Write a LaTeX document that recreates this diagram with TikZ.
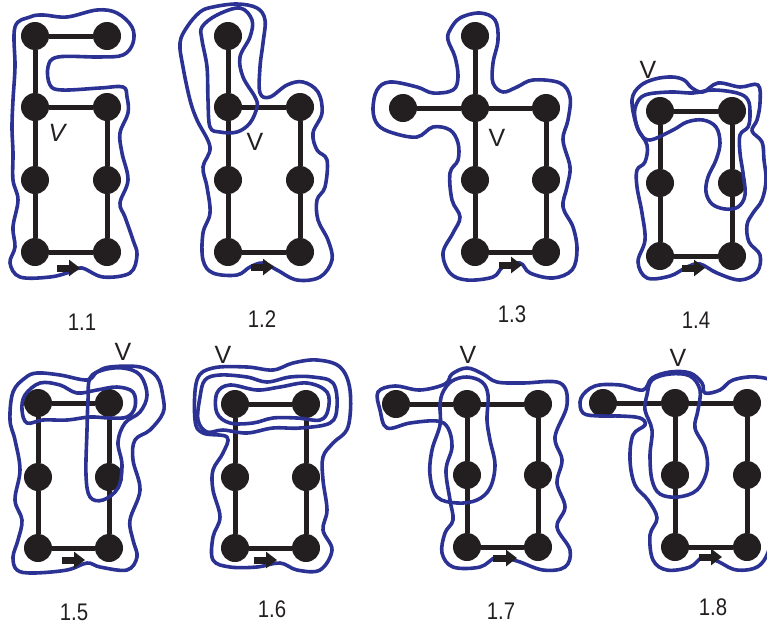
\documentclass[tikz,border=0pt]{standalone}
\usepackage{fontspec}
\setmainfont{Liberation Sans}
\newfontfamily\capfont[FakeStretch=0.85]{Liberation Sans}
\usetikzlibrary{arrows.meta}
\definecolor{inkblue}{RGB}{43,50,148}
\definecolor{dot}{RGB}{35,31,32}
\begin{document}
\begin{tikzpicture}[x=1pt,y=-1pt,
  vtx/.style={circle,fill=dot,minimum size=28pt,inner sep=0pt},
  edgeline/.style={draw=dot,line width=5pt},
  blueline/.style={draw=inkblue,line width=3.6pt,line join=round},
  vlabel/.style={font=\fontsize{25}{25}\selectfont,text=dot,inner sep=0pt},
  caplabel/.style={font=\capfont\fontsize{24}{24}\selectfont,text=dot,inner sep=0pt},
  arr/.style={draw=dot,line width=7pt,-{Triangle[length=11pt,width=16pt]}}]
\useasboundingbox (0,0) rectangle (767,632);
% ---------- 1.1
\node[vtx] (a1) at (35,36) {}; \node[vtx] (a2) at (107,36) {};
\node[vtx] (a3) at (35,107) {}; \node[vtx] (a4) at (107,107) {};
\node[vtx] (a5) at (35,180) {}; \node[vtx] (a6) at (107,180) {};
\node[vtx] (a7) at (35,252) {}; \node[vtx] (a8) at (107,252) {};
\draw[edgeline] (a1)--(a2) (a1)--(a3) (a3)--(a4) (a3)--(a5) (a5)--(a7) (a4)--(a6) (a6)--(a8) (a7)--(a8);
\node[vlabel] (av) at (57,133) {\itshape V};
\node[caplabel] (ac) at (82,322) {1.1};
\draw[blueline] plot[smooth cycle,tension=0.6] coordinates {(15,27) (30,17) (43,15) (67,17) (97,10) (117,13) (132,27) (133,43) (123,55) (100,57) (58,57) (48,67) (50,85) (62,90) (100,88) (123,87) (127,97) (128,113) (120,133) (122,153) (128,180) (120,203) (125,217) (133,240) (137,255) (130,273) (103,277) (82,268) (70,272) (50,277) (20,277) (10,263) (15,247) (13,227) (18,200) (13,180) (13,153) (12,127) (13,100) (15,67)};
\coordinate (a9) at (57,268); \coordinate (a10) at (80,268);
\draw[arr] (a9)--(a10);
% ---------- 1.2
\node[vtx] (b1) at (228,36) {};
\node[vtx] (b3) at (228,107) {}; \node[vtx] (b4) at (300,107) {};
\node[vtx] (b5) at (228,180) {}; \node[vtx] (b6) at (300,180) {};
\node[vtx] (b7) at (228,252) {}; \node[vtx] (b8) at (300,252) {};
\draw[edgeline] (b1)--(b3) (b3)--(b4) (b3)--(b5) (b5)--(b7) (b4)--(b6) (b6)--(b8) (b7)--(b8);
\node[vlabel] (bv) at (255,142) {V};
\node[caplabel] (bc) at (262,319) {1.2};
\draw[blueline] plot[smooth cycle,tension=0.6] coordinates {(200,12) (213,7) (237,4) (257,8) (265,20) (263,43) (260,67) (260,93) (270,97) (287,85) (303,82) (318,92) (322,113) (313,133) (317,150) (327,160) (325,187) (317,200) (318,220) (328,240) (332,260) (320,277) (297,280) (277,270) (263,263) (250,267) (237,275) (213,273) (203,260) (203,233) (210,213) (207,187) (203,167) (210,147) (197,120) (190,100) (183,67) (180,43) (187,27)};
\draw[blueline] plot[smooth cycle,tension=0.6] coordinates {(202,27) (217,15) (240,8) (252,20) (250,37) (240,57) (243,77) (255,97) (257,107) (250,123) (237,132) (220,132) (210,127) (208,100) (207,67) (202,40)};
\coordinate (b9) at (251,267); \coordinate (b10) at (274,267);
\draw[arr] (b9)--(b10);
% ---------- 1.3
\node[vtx] (c1) at (475,36) {};
\node[vtx] (c2) at (403,108) {}; \node[vtx] (c3) at (475,108) {}; \node[vtx] (c4) at (546,108) {};
\node[vtx] (c5) at (475,180) {}; \node[vtx] (c6) at (546,180) {};
\node[vtx] (c7) at (475,252) {}; \node[vtx] (c8) at (546,252) {};
\draw[edgeline] (c1)--(c3) (c2)--(c3) (c3)--(c4) (c3)--(c5) (c5)--(c7) (c4)--(c6) (c6)--(c8) (c7)--(c8);
\node[vlabel] (cv) at (497,138) {V};
\node[caplabel] (cc) at (512,314) {1.3};
\draw[blueline] plot[smooth cycle,tension=0.6] coordinates {(450,30) (460,18) (480,13) (495,20) (498,40) (493,63) (493,83) (503,92) (517,87) (533,80) (560,83) (570,97) (568,120) (563,140) (570,167) (567,187) (563,207) (573,227) (577,250) (572,270) (553,278) (530,273) (520,263) (503,267) (493,277) (467,280) (450,273) (443,253) (453,233) (460,217) (452,200) (450,173) (458,160) (458,143) (450,130) (433,127) (417,137) (393,133) (378,125) (373,110) (377,90) (390,82) (417,87) (433,93) (453,90) (458,77) (455,57) (448,40)};
\coordinate (c9) at (499,265); \coordinate (c10) at (522,265);
\draw[arr] (c9)--(c10);
% ---------- 1.4
\node[vtx] (d1) at (660,111) {}; \node[vtx] (d2) at (732,111) {};
\node[vtx] (d3) at (660,183) {}; \node[vtx] (d4) at (732,183) {};
\node[vtx] (d5) at (660,256) {}; \node[vtx] (d6) at (732,256) {};
\draw[edgeline] (d1)--(d2) (d1)--(d3) (d3)--(d5) (d2)--(d4) (d4)--(d6) (d5)--(d6);
\node[vlabel] (dv) at (648,70) {V};
\node[caplabel] (dc) at (696,320) {1.4};
\draw[blueline] plot[smooth cycle,tension=0.6] coordinates {(632,100) (640,86) (655,79) (672,77) (684,80) (692,88) (703,92) (718,83) (740,87) (758,85) (760,103) (757,120) (752,131) (762,142) (764,160) (766,180) (762,200) (753,213) (747,225) (749,242) (760,255) (757,272) (740,280) (717,273) (700,264) (687,267) (670,276) (647,278) (638,262) (645,240) (642,213) (637,187) (637,170) (645,162) (647,145) (637,127)};
\draw[blueline] plot[smooth cycle,tension=0.6] coordinates {(636,105) (645,95) (670,92) (693,93) (713,90) (737,93) (748,100) (750,115) (748,127) (740,135) (740,153) (743,173) (745,195) (738,207) (725,209) (712,204) (706,192) (708,177) (716,160) (720,143) (716,127) (703,120) (687,122) (673,130) (650,140) (640,133) (635,118)};
\coordinate (d9) at (682,268); \coordinate (d10) at (705,268);
\draw[arr] (d9)--(d10);
% ---------- 1.5
\node[vtx] (e1) at (38,403) {}; \node[vtx] (e2) at (109,403) {};
\node[vtx] (e3) at (38,477) {}; \node[vtx] (e4) at (109,477) {};
\node[vtx] (e5) at (38,548) {}; \node[vtx] (e6) at (109,548) {};
\draw[edgeline] (e1)--(e2) (e1)--(e3) (e3)--(e5) (e2)--(e4) (e4)--(e6) (e5)--(e6);
\node[vlabel] (ev) at (123,352) {V};
\node[caplabel] (ec) at (74,612) {1.5};
\draw[blueline] plot[smooth cycle,tension=0.6] coordinates {(22,410) (25,395) (40,383) (60,385) (77,393) (97,390) (117,387) (133,392) (135,407) (127,417) (110,418) (90,417) (67,420) (43,420) (27,423)};
\draw[blueline] plot[smooth cycle,tension=0.6] coordinates {(90,378) (103,370) (123,368) (140,375) (147,395) (140,412) (125,423) (118,442) (122,465) (118,488) (103,500) (90,497) (86,475) (87,430) (88,400)};
\draw[blueline] plot[smooth cycle,tension=0.6] coordinates {(25,378) (37,373) (60,375) (87,380) (97,372) (110,367) (140,367) (157,377) (163,397) (163,413) (150,430) (135,440) (133,460) (140,490) (130,520) (133,540) (137,557) (127,570) (100,567) (87,563) (67,570) (33,573) (17,570) (13,557) (18,540) (22,520) (15,500) (20,470) (15,440) (10,420) (13,392)};
\coordinate (e9) at (62,560); \coordinate (e10) at (85,560);
\draw[arr] (e9)--(e10);
% ---------- 1.6
\node[vtx] (f1) at (235,404) {}; \node[vtx] (f2) at (306,404) {};
\node[vtx] (f3) at (235,477) {}; \node[vtx] (f4) at (306,477) {};
\node[vtx] (f5) at (235,548) {}; \node[vtx] (f6) at (306,548) {};
\draw[edgeline] (f1)--(f2) (f1)--(f3) (f3)--(f5) (f2)--(f4) (f4)--(f6) (f5)--(f6);
\node[vlabel] (fv) at (223,355) {V};
\node[caplabel] (fc) at (272,609) {1.6};
\draw[blueline] plot[smooth cycle,tension=0.6] coordinates {(217,393) (230,385) (257,390) (280,387) (307,383) (327,392) (328,410) (320,420) (297,418) (273,418) (253,423) (230,423) (217,413)};
\draw[blueline] plot[smooth cycle,tension=0.6] coordinates {(205,380) (220,375) (247,377) (267,382) (290,377) (313,377) (333,383) (337,407) (330,423) (300,428) (273,428) (247,433) (223,430) (207,432) (198,420) (200,397)};
\draw[blueline] plot[smooth cycle,tension=0.6] coordinates {(197,380) (213,368) (247,367) (273,370) (293,363) (317,360) (340,367) (350,390) (348,427) (333,443) (323,457) (323,480) (327,510) (323,530) (332,550) (320,570) (297,570) (280,563) (257,567) (230,567) (213,560) (213,537) (220,517) (213,490) (213,470) (223,453) (227,437) (203,433) (195,420)};
\coordinate (f9) at (254,560); \coordinate (f10) at (277,560);
\draw[arr] (f9)--(f10);
% ---------- 1.7
\node[vtx] (g1) at (396,404) {}; \node[vtx] (g2) at (467,404) {}; \node[vtx] (g3) at (538,404) {};
\node[vtx] (g4) at (467,475) {}; \node[vtx] (g5) at (538,475) {};
\node[vtx] (g6) at (467,547) {}; \node[vtx] (g7) at (538,547) {};
\draw[edgeline] (g1)--(g2) (g2)--(g3) (g2)--(g4) (g4)--(g6) (g3)--(g5) (g5)--(g7) (g6)--(g7);
\node[vlabel] (gv) at (468,355) {V};
\node[caplabel] (gc) at (501,611) {1.7};
\draw[blueline] plot[smooth cycle,tension=0.6] coordinates {(378,392) (395,386) (420,390) (445,384) (452,374) (467,368) (483,374) (497,382) (523,383) (560,383) (567,405) (555,437) (562,460) (557,483) (565,507) (557,527) (570,550) (565,567) (543,570) (517,561) (497,557) (480,567) (453,567) (442,553) (445,533) (453,520) (450,500) (446,470) (452,447) (448,428) (437,421) (410,423) (387,428) (380,410)};
\draw[blueline] plot[smooth cycle,tension=0.6] coordinates {(443,392) (452,381) (467,377) (482,382) (488,395) (487,420) (490,440) (495,465) (490,488) (477,500) (457,503) (437,497) (430,475) (432,450) (440,425) (440,405)};
\coordinate (g9) at (493,558); \coordinate (g10) at (517,558);
\draw[arr] (g9)--(g10);
% ---------- 1.8
\node[vtx] (h1) at (603,403) {}; \node[vtx] (h2) at (675,403) {}; \node[vtx] (h3) at (747,403) {};
\node[vtx] (h4) at (675,475) {}; \node[vtx] (h5) at (747,475) {};
\node[vtx] (h6) at (675,547) {}; \node[vtx] (h7) at (747,547) {};
\draw[edgeline] (h1)--(h2) (h2)--(h3) (h2)--(h4) (h4)--(h6) (h3)--(h5) (h5)--(h7) (h6)--(h7);
\node[vlabel] (hv) at (678,358) {V};
\node[caplabel] (hc) at (713,607) {1.8};
\draw[blueline] plot[smooth cycle,tension=0.6] coordinates {(581,398) (595,386) (620,385) (643,390) (652,378) (670,372) (690,373) (702,383) (705,393) (720,390) (733,380) (757,377) (775,385) (778,420) (772,460) (778,500) (772,540) (760,565) (737,570) (717,561) (703,557) (690,567) (667,570) (653,560) (650,535) (657,518) (648,500) (635,485) (630,460) (633,435) (645,425) (640,418) (620,416) (600,416) (583,413)};
\draw[blueline] plot[smooth cycle,tension=0.6] coordinates {(647,395) (652,380) (670,374) (690,376) (700,390) (698,410) (695,428) (705,448) (707,470) (697,490) (678,497) (660,494) (652,480) (650,455) (652,430) (645,410)};
\coordinate (h9) at (699,557); \coordinate (h10) at (722,557);
\draw[arr] (h9)--(h10);
\end{tikzpicture}
\end{document}
